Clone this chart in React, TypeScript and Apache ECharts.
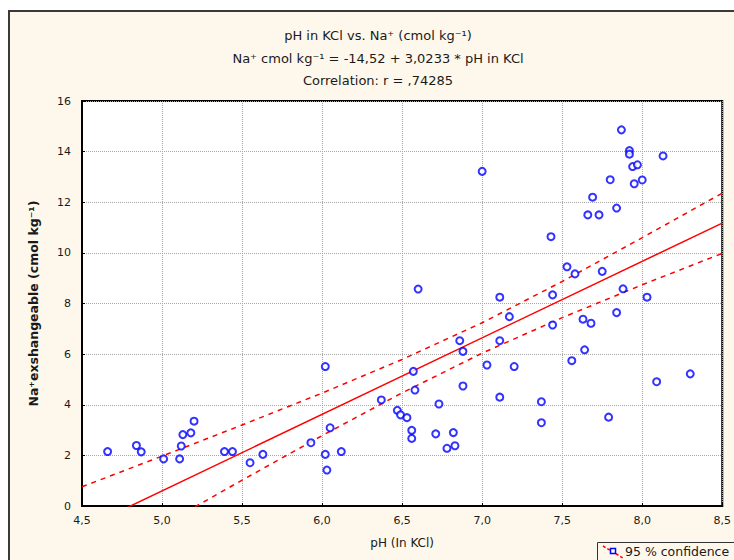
import React, { useEffect, useRef } from "react";
import * as echarts from "echarts";

// ---- data ----
const phKCl: number[] = [
  4.66, 4.84, 4.87, 5.01, 5.11, 5.12, 5.13, 5.18, 5.2, 5.39, 5.44, 5.55, 5.63, 5.93, 6.02, 6.05, 6.02, 6.03,
  6.12, 6.37, 6.47, 6.49, 6.53, 6.56, 6.56, 6.57, 6.58, 6.6, 6.71, 6.73, 6.78, 6.82, 6.83, 6.86, 6.88, 6.88,
  7.0, 7.03, 7.11, 7.11, 7.11, 7.17, 7.2, 7.37, 7.37, 7.43, 7.44, 7.44, 7.53, 7.56, 7.58, 7.63, 7.64, 7.66,
  7.68, 7.69, 7.73, 7.75, 7.79, 7.8, 7.84, 7.84, 7.87, 7.88, 7.92, 7.92, 7.94, 7.95, 7.97, 8.0, 8.03, 8.09,
  8.13, 8.3,
];
const naExch: number[] = [
  2.15, 2.39, 2.14, 1.86, 1.86, 2.37, 2.82, 2.89, 3.35, 2.15, 2.15, 1.71, 2.04, 2.5, 5.51, 3.09, 2.04, 1.42,
  2.15, 4.19, 3.78, 3.6, 3.49, 2.99, 2.67, 5.32, 4.58, 8.57, 2.85, 4.03, 2.28, 2.9, 2.38, 6.53, 6.11, 4.74,
  13.22, 5.57, 8.25, 6.53, 4.3, 7.48, 5.51, 4.12, 3.29, 10.64, 8.34, 7.15, 9.45, 5.74, 9.17, 7.38, 6.17, 11.5,
  7.22, 12.2, 11.5, 9.27, 3.51, 12.89, 11.77, 7.64, 14.86, 8.58, 14.04, 13.9, 13.41, 12.73, 13.48, 12.88, 8.25, 4.91,
  13.83, 5.22,
];

// regression from the title: Na = -14.52 + 3.0233 * pH
const intercept = -14.52;
const slope = 3.0233;
const lineX: number[] = [4.5, 8.5];

// 95% confidence band
const bandX: number[] = [4.5, 5.0, 5.5, 6.0, 6.5, 7.0, 7.5, 8.0, 8.5];
const bandUpper: number[] = [0.76, 1.97, 3.2, 4.46, 5.79, 7.24, 8.87, 10.6, 12.36];
const bandLower: number[] = [-2.59, -0.77, 1.02, 2.78, 4.47, 6.04, 7.44, 8.74, 9.98];

const xTicks: number[] = [4.5, 5.0, 5.5, 6.0, 6.5, 7.0, 7.5, 8.0, 8.5];
const yTicks: number[] = [0, 2, 4, 6, 8, 10, 12, 14, 16];

const titleLines: string[] = [
  "pH in KCl vs. Na⁺ (cmol kg⁻¹)",
  "Na⁺ cmol kg⁻¹ = -14,52 + 3,0233 * pH in KCl",
  "Correlation: r = ,74285",
];

const FONT = "'DejaVu Sans', 'Liberation Sans', Arial, sans-serif";
const BG = "#fef8ec";
const TXT = "#1a1a1a";

export default function App() {
  const ref = useRef<HTMLDivElement>(null);

  useEffect(() => {
    if (!ref.current) return;
    const chart = echarts.init(ref.current, undefined, { renderer: "svg" });

    const points = phKCl.map((x, i) => [x, naExch[i]]);
    const regLine = lineX.map((x) => [x, intercept + slope * x]);
    const upper = bandX.map((x, i) => [x, bandUpper[i]]);
    const lower = bandX.map((x, i) => [x, bandLower[i]]);

    const titleYs = [35, 58, 80];

    chart.setOption({
      animation: false,
      backgroundColor: "transparent",
      textStyle: { fontFamily: FONT },
      grid: {
        left: 82,
        right: 11,
        top: 101,
        bottom: 54,
        show: true,
        backgroundColor: "#ffffff",
        borderColor: "#000000",
        borderWidth: 2,
      },
      xAxis: {
        type: "value",
        min: xTicks[0],
        max: xTicks[xTicks.length - 1],
        interval: 0.5,
        name: "pH (In KCl)",
        nameLocation: "middle",
        nameGap: 31,
        nameTextStyle: { fontSize: 12, color: TXT, fontFamily: FONT },
        axisLine: { show: true, lineStyle: { color: "#000", width: 2 } },
        axisTick: { show: true, inside: true, length: 3, lineStyle: { color: "#000" } },
        axisLabel: {
          fontSize: 11,
          color: TXT,
          margin: 9,
          fontFamily: FONT,
          formatter: (v: number) => v.toFixed(1).replace(".", ","),
        },
        splitLine: { show: true, lineStyle: { type: "dotted", color: "#a8a8a8", width: 1 } },
      },
      yAxis: {
        type: "value",
        min: yTicks[0],
        max: yTicks[yTicks.length - 1],
        interval: 2,
        name: "Na⁺exshangeable (cmol kg⁻¹)",
        nameLocation: "middle",
        nameGap: 42,
        nameTextStyle: { fontSize: 12.5, fontWeight: "bold", color: TXT, fontFamily: FONT },
        axisLine: { show: true, lineStyle: { color: "#000", width: 2 } },
        axisTick: { show: true, inside: true, length: 3, lineStyle: { color: "#000" } },
        axisLabel: { fontSize: 11, color: TXT, margin: 11, fontFamily: FONT },
        splitLine: { show: true, lineStyle: { type: "dotted", color: "#a8a8a8", width: 1 } },
      },
      series: [
        {
          type: "line",
          data: upper,
          smooth: false,
          symbol: "none",
          clip: true,
          lineStyle: { color: "#ff0000", width: 1.5, type: [5, 5] },
          z: 2,
        },
        {
          type: "line",
          data: lower,
          smooth: false,
          symbol: "none",
          clip: true,
          lineStyle: { color: "#ff0000", width: 1.5, type: [5, 5] },
          z: 2,
        },
        {
          type: "line",
          data: regLine,
          symbol: "none",
          clip: true,
          lineStyle: { color: "#ff0000", width: 1.5 },
          z: 3,
        },
        {
          type: "scatter",
          data: points,
          symbol: "emptyCircle",
          symbolSize: 7,
          itemStyle: { color: "#0000ff", borderColor: "#0000ff", borderWidth: 1.5 },
          z: 5,
        },
      ],
      graphic: [
        ...titleLines.map((t, i) => ({
          type: "text",
          x: 378,
          y: titleYs[i],
          style: {
            text: t,
            fontSize: 13,
            fontFamily: FONT,
            fill: TXT,
            textAlign: "center",
            textVerticalAlign: "middle",
          },
        })),
        {
          type: "rect",
          shape: { x: 597.5, y: 542.5, width: 150, height: 30 },
          style: { fill: BG, stroke: "#333", lineWidth: 1 },
        },
        {
          type: "line",
          shape: { x1: 603, y1: 546, x2: 623, y2: 558 },
          style: { stroke: "#ff0000", lineWidth: 1.5, lineDash: [3, 2] },
        },
        {
          type: "rect",
          shape: { x: 610.5, y: 548.5, width: 5, height: 5 },
          style: { fill: "#fff", stroke: "#0000ff", lineWidth: 1.5 },
        },
        {
          type: "text",
          x: 625,
          y: 551,
          style: {
            text: "95 % confidence",
            fontSize: 12.5,
            fontFamily: FONT,
            fill: TXT,
            textAlign: "left",
            textVerticalAlign: "middle",
          },
        },
      ],
    });

    return () => chart.dispose();
  }, []);

  return (
    <div style={{ position: "fixed", left: 0, top: 0, width: 734, height: 560, background: "#ffffff", overflow: "hidden" }}>
      <div
        style={{
          position: "absolute",
          left: 8,
          top: 10,
          right: 0,
          bottom: 0,
          background: BG,
          borderTop: "2px solid #3a3a3a",
          borderLeft: "2px solid #3a3a3a",
        }}
      />
      <div ref={ref} style={{ position: "absolute", left: 0, top: 0, width: 734, height: 560 }} />
    </div>
  );
}
